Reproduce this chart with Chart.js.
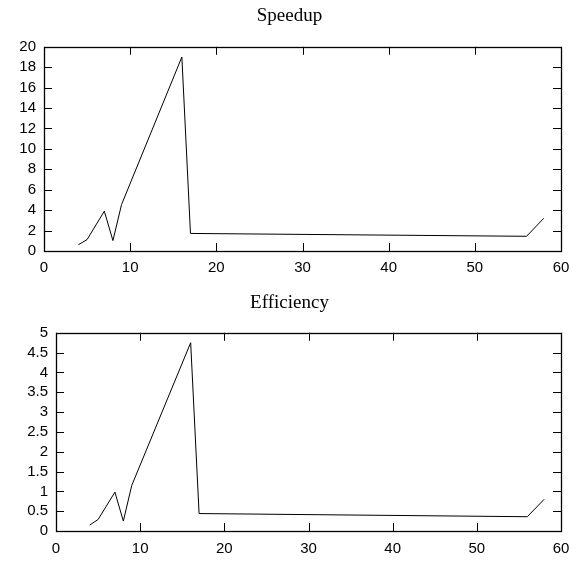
<!DOCTYPE html>
<html>
<head>
<meta charset="utf-8">
<title>Speedup / Efficiency</title>
<script src="https://cdn.jsdelivr.net/npm/chart.js@4/dist/chart.umd.min.js"></script>
<style>
  html, body { margin: 0; padding: 0; background: #fff; }
  #wrap { position: relative; width: 579px; height: 564px; }
  canvas { position: absolute; left: 0; display: block; }
</style>
</head>
<body>
<div id="wrap">
  <canvas id="speedup" width="579" height="282" style="top:0"></canvas>
  <canvas id="efficiency" width="579" height="282" style="top:282px"></canvas>
</div>
<script>
// data
const procs = [4, 5, 7, 8, 9, 16, 17, 56, 58];
const speedup = [0.62, 1.12, 3.9, 1.02, 4.55, 19.0, 1.72, 1.44, 3.2];
const efficiency = [0.15, 0.29, 0.98, 0.25, 1.15, 4.75, 0.44, 0.36, 0.8];

const xTicks = [0, 10, 20, 30, 40, 50, 60];
const speedupTicks = [0, 2, 4, 6, 8, 10, 12, 14, 16, 18, 20];
const efficiencyTicks = [0, 0.5, 1, 1.5, 2, 2.5, 3, 3.5, 4, 4.5, 5];

const TICK_FONT = { family: 'Liberation Sans, Arial, sans-serif', size: 15 };
const TITLE_FONT = { family: 'Liberation Serif, Times New Roman, serif', size: 19, weight: 'normal' };

// gnuplot style frame: box plus inward ticks on all four sides
const framePlugin = {
  id: 'frame',
  afterDraw(chart) {
    const { ctx, chartArea: a, scales } = chart;
    const len = 8;
    ctx.save();
    ctx.strokeStyle = '#000';
    ctx.lineWidth = 1;
    ctx.beginPath();
    scales.x.ticks.forEach(t => {
      const px = Math.round(scales.x.getPixelForValue(t.value)) + 0.5;
      ctx.moveTo(px, a.bottom); ctx.lineTo(px, a.bottom - len);
      ctx.moveTo(px, a.top); ctx.lineTo(px, a.top + len);
    });
    scales.y.ticks.forEach(t => {
      const py = Math.round(scales.y.getPixelForValue(t.value)) + 0.5;
      ctx.moveTo(a.left, py); ctx.lineTo(a.left + len, py);
      ctx.moveTo(a.right, py); ctx.lineTo(a.right - len, py);
    });
    ctx.stroke();
    ctx.lineWidth = 1.3;
    ctx.strokeRect(Math.round(a.left) + 0.5, Math.round(a.top) + 0.5,
      Math.round(a.right - a.left), Math.round(a.bottom - a.top));
    ctx.restore();
  }
};

const makeChart = (id, { title, values, yTicks, yWidth, titlePad, xHeight, xPad }) => new Chart(
  document.getElementById(id), {
    type: 'line',
    data: {
      datasets: [{
        data: procs.map((p, i) => ({ x: p, y: values[i] })),
        borderColor: '#000',
        borderWidth: 1,
        pointRadius: 0,
        tension: 0,
        fill: false,
      }],
    },
    options: {
      responsive: false,
      animation: false,
      devicePixelRatio: 1,
      layout: { padding: 0 },
      plugins: {
        legend: { display: false },
        tooltip: { enabled: false },
        title: {
          display: true,
          text: title,
          color: '#000',
          font: TITLE_FONT,
          padding: titlePad,
        },
      },
      scales: {
        x: {
          type: 'linear',
          min: 0,
          max: 60,
          afterBuildTicks: s => { s.ticks = xTicks.map(v => ({ value: v })); },
          grid: { display: false, drawTicks: false },
          border: { display: false },
          ticks: {
            color: '#000', font: TICK_FONT, padding: xPad, maxRotation: 0, autoSkip: false,
            callback: v => String(v),
          },
          afterFit: s => { s.height = xHeight; },
        },
        y: {
          type: 'linear',
          min: yTicks[0],
          max: yTicks[yTicks.length - 1],
          afterBuildTicks: s => { s.ticks = yTicks.map(v => ({ value: v })); },
          grid: { display: false, drawTicks: false },
          border: { display: false },
          ticks: { color: '#000', font: TICK_FONT, padding: 8, autoSkip: false, callback: v => String(v) },
          afterFit: s => { s.width = yWidth; },
        },
        // empty right axis, only keeps space so the title stays centred on the page
        y2: {
          position: 'right',
          grid: { display: false, drawTicks: false },
          border: { display: false },
          ticks: { display: false },
          afterFit: s => { s.width = 18; },
        },
      },
    },
    plugins: [framePlugin],
  });

makeChart('speedup', {
  title: 'Speedup',
  values: speedup,
  yTicks: speedupTicks,
  yWidth: 44,
  titlePad: { top: 5, bottom: 19 },
  xHeight: 31,
  xPad: 8,
});

makeChart('efficiency', {
  title: 'Efficiency',
  values: efficiency,
  yTicks: efficiencyTicks,
  yWidth: 56,
  titlePad: { top: 10, bottom: 18 },
  xHeight: 33,
  xPad: 9,
});
</script>
</body>
</html>
